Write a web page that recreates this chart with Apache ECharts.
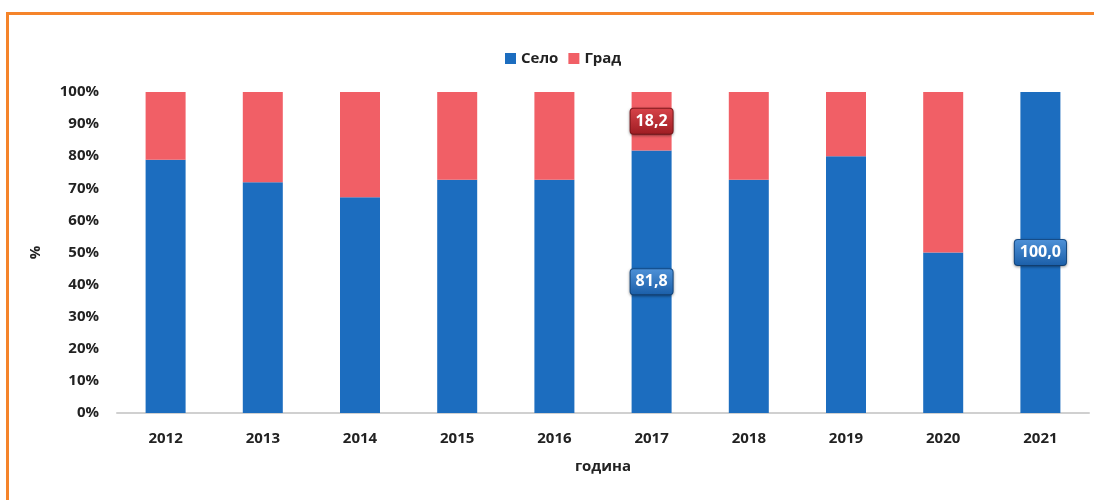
<!DOCTYPE html>
<html>
<head>
<meta charset="utf-8">
<script src="https://cdn.jsdelivr.net/npm/echarts@6/dist/echarts.min.js"></script>
<style>
  html, body { margin: 0; padding: 0; background: #fff; }
  #frame { position: absolute; left: 6px; top: 12px; width: 1100px; height: 500px;
           border-top: 3px solid #f5842a; border-left: 3px solid #f5842a; }
  #chart { position: absolute; left: 0; top: 0; width: 1094px; height: 500px; }
</style>
</head>
<body>
<div id="frame"></div>
<div id="chart"></div>
<script>
  const years = ['2012', '2013', '2014', '2015', '2016', '2017', '2018', '2019', '2020', '2021']
  const selo = [78.9, 71.9, 67.2, 72.7, 72.7, 81.8, 72.7, 80.0, 50.0, 100.0]
  const grad = [21.1, 28.1, 32.8, 27.3, 27.3, 18.2, 27.3, 20.0, 50.0, 0.0]
  const yTicks = [0, 10, 20, 30, 40, 50, 60, 70, 80, 90, 100]
  // which bars carry a value box
  const seloLabeled = ['2017', '2021']
  const gradLabeled = ['2017']

  const blue = '#1c6dbf'
  const red = '#f15f66'
  const font = 'Open Sans'
  const txt = { fontFamily: font, fontWeight: 'bold', fontSize: 15, color: '#222' }

  const boxLabel = (top, bottom, border) => ({
    show: true,
    position: 'inside',
    formatter: p => p.value.toFixed(1).replace('.', ','),
    color: '#fff',
    fontFamily: font,
    fontWeight: 'bold',
    fontSize: 16,
    padding: [5, 5, 4, 5],
    borderRadius: 3,
    borderWidth: 1,
    borderColor: border,
    backgroundColor: new echarts.graphic.LinearGradient(0, 0, 0, 1, [
      { offset: 0, color: top },
      { offset: 1, color: bottom }
    ]),
    shadowColor: 'rgba(0,0,0,0.35)',
    shadowBlur: 3,
    shadowOffsetY: 1
  })

  const mkData = (vals, labeled, lab) => vals.map((v, i) =>
    labeled.includes(years[i]) ? { value: v, label: lab } : v)

  const chart = echarts.init(document.getElementById('chart'))
  chart.setOption({
    animation: false,
    legend: {
      top: 46,
      left: 500,
      icon: 'rect',
      itemWidth: 11,
      itemHeight: 11,
      itemGap: 10,
      textStyle: txt,
      data: ['Село', 'Град']
    },
    grid: { left: 117, right: 5, top: 92, bottom: 87 },
    xAxis: {
      type: 'category',
      data: years,
      name: 'година',
      nameLocation: 'middle',
      nameGap: 46,
      nameTextStyle: txt,
      axisLine: { lineStyle: { color: '#d0d0d0', width: 2 } },
      axisTick: { show: false },
      axisLabel: Object.assign({ margin: 18 }, txt)
    },
    yAxis: {
      type: 'value',
      min: yTicks[0],
      max: yTicks[yTicks.length - 1],
      interval: 10,
      name: '%',
      nameLocation: 'middle',
      nameGap: 74,
      nameRotate: 90,
      nameTextStyle: txt,
      axisLine: { show: false },
      axisTick: { show: false },
      splitLine: { show: false },
      axisLabel: Object.assign({ margin: 18, formatter: '{value}%' }, txt)
    },
    series: [
      {
        name: 'Село',
        type: 'bar',
        stack: 'total',
        barWidth: 40,
        itemStyle: { color: blue },
        data: mkData(selo, seloLabeled, boxLabel('#4f92d8', '#1a5ea8', '#16508f'))
      },
      {
        name: 'Град',
        type: 'bar',
        stack: 'total',
        barWidth: 40,
        itemStyle: { color: red },
        data: mkData(grad, gradLabeled, boxLabel('#d8444a', '#9e1c22', '#8a1a1f'))
      }
    ]
  })
</script>
</body>
</html>
